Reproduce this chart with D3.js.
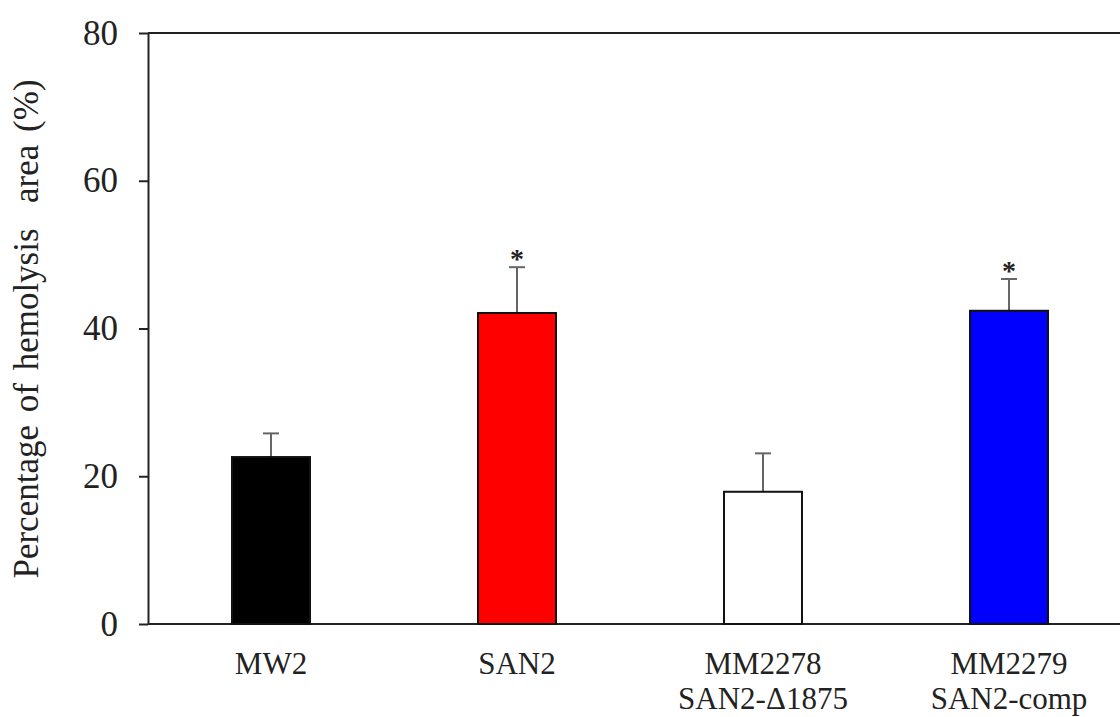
<!DOCTYPE html>
<html>
<head>
<meta charset="utf-8">
<script src="https://cdn.jsdelivr.net/npm/d3@7"></script>
<style>
  body { margin: 0; background: #fff; }
  svg { display: block; }
  text { font-family: "Liberation Serif", "Times New Roman", serif; fill: #222; }
</style>
</head>
<body>
<script>
// values
let strains = ['MW2', 'SAN2', 'MM2278', 'MM2279'];
let strainLabels = [['MW2'], ['SAN2'], ['MM2278', 'SAN2-\u03941875'], ['MM2279', 'SAN2-comp']];
let hemolysis = [22.6, 42.1, 17.9, 42.4];
let sem = [3.2, 6.2, 5.2, 4.3];
let significant = [false, true, false, true];
let barColors = ['#000000', '#ff0000', '#ffffff', '#0000ff'];
let yTicks = [0, 20, 40, 60, 80];

let width = 1120;
let height = 717;

let margin = {
  left: 148,
  top: 33,
  bottom: 93
};

let plotH = height - margin.top - margin.bottom;

let svg = d3.select('body')
  .append('svg')
  .attr('width', width)
  .attr('height', height);

let y = d3.scaleLinear()
  .domain([0, 80])
  .range([plotH, 0]);

// step of 246px per strain, bar ~78px wide
let x = d3.scaleBand()
  .domain(strains)
  .range([0, 984])
  .paddingInner(0.683)
  .paddingOuter(0.3415);

let chartGroup = svg.append('g')
  .attr('transform', 'translate(' + margin.left + ',' + margin.top + ')');

// frame lines (top and bottom)
chartGroup.append('line')
  .attr('x1', 0).attr('x2', width)
  .attr('y1', y(80)).attr('y2', y(80))
  .attr('stroke', '#222').attr('stroke-width', 2);
chartGroup.append('line')
  .attr('x1', 0).attr('x2', width)
  .attr('y1', y(0)).attr('y2', y(0))
  .attr('stroke', '#222').attr('stroke-width', 2);

// error bars (drawn first, bars sit on top)
let errGroup = chartGroup.append('g');
strains.forEach(function (s, i) {
  let cx = x(s) + x.bandwidth() / 2;
  errGroup.append('line')
    .attr('x1', cx).attr('x2', cx)
    .attr('y1', y(hemolysis[i])).attr('y2', y(hemolysis[i] + sem[i]))
    .attr('stroke', '#666').attr('stroke-width', 2);
  errGroup.append('line')
    .attr('x1', cx - 8).attr('x2', cx + 8)
    .attr('y1', y(hemolysis[i] + sem[i])).attr('y2', y(hemolysis[i] + sem[i]))
    .attr('stroke', '#666').attr('stroke-width', 2);
});

chartGroup.selectAll('rect.bar')
  .data(strains)
  .enter()
  .append('rect')
  .attr('class', 'bar')
  .attr('x', function (d) { return x(d); })
  .attr('width', x.bandwidth())
  .attr('y', function (d, i) { return y(hemolysis[i]); })
  .attr('height', function (d, i) { return y(0) - y(hemolysis[i]); })
  .attr('fill', function (d, i) { return barColors[i]; })
  .attr('stroke', '#111')
  .attr('stroke-width', 2);

// significance stars
chartGroup.selectAll('text.star')
  .data(strains.filter(function (d, i) { return significant[i]; }))
  .enter()
  .append('text')
  .attr('class', 'star')
  .attr('x', function (d) { return x(d) + x.bandwidth() / 2; })
  .attr('y', function (d) {
    let i = strains.indexOf(d);
    return y(hemolysis[i] + sem[i]) + 1;
  })
  .attr('text-anchor', 'middle')
  .style('font-size', '28px')
  .style('font-weight', 'bold')
  .text('*');

// y axis
let yAxis = d3.axisLeft(y)
  .tickValues(yTicks)
  .tickSizeInner(9)
  .tickSizeOuter(0)
  .tickPadding(21);

let yg = chartGroup.append('g')
  .attr('class', 'y axis')
  .call(yAxis);
yg.select('.domain').attr('stroke', '#222').attr('stroke-width', 2);
yg.selectAll('.tick line').attr('stroke', '#222').attr('stroke-width', 2);
yg.selectAll('.tick text')
  .style('font-size', '35px')
  .style('font-family', '"Liberation Serif", serif')
  .attr('fill', '#222');

// x labels (no tick marks in the original)
let xg = chartGroup.append('g')
  .attr('class', 'x axis');
strains.forEach(function (s, i) {
  let t = xg.append('text')
    .attr('x', x(s) + x.bandwidth() / 2)
    .attr('y', plotH + 50)
    .attr('text-anchor', 'middle')
    .style('font-size', '31px');
  strainLabels[i].forEach(function (line, j) {
    t.append('tspan')
      .attr('x', x(s) + x.bandwidth() / 2)
      .attr('dy', j === 0 ? 0 : 35)
      .text(line);
  });
});

// y axis title
svg.append('text')
  .attr('transform', 'translate(38,329) rotate(-90)')
  .attr('text-anchor', 'middle')
  .style('font-size', '35px')
  .style('word-spacing', '4px')
  .style('white-space', 'pre')
  .text('Percentage of hemolysis  area (%)');
</script>
</body>
</html>
